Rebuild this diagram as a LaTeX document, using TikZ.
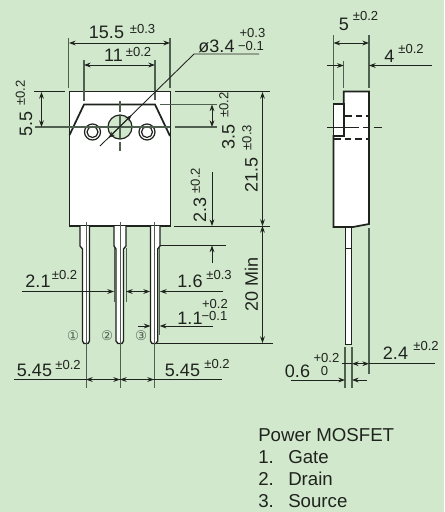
\documentclass[tikz,border=0pt]{standalone}
\usepackage{fontspec}
\setmainfont{Liberation Sans}
\newfontfamily\circfont{DejaVu Sans}
\usetikzlibrary{arrows.meta}
\definecolor{bggreen}{HTML}{D2E8CC}
\definecolor{linegray}{HTML}{4F5F50}
\definecolor{inkdark}{HTML}{1E231E}
\tikzset{
  outline/.style = {draw=inkdark, line width = 1.3pt, line join = miter},
  lead/.style = {draw=inkdark, line width = 1pt, line join = miter, fill=white},
  thin line/.style = {draw=inkdark, line width = 0.65pt},
  ext/.style = {draw=linegray, line width = 0.85pt},
  center/.style = {draw=linegray, line width = 0.6pt},
  dim/.style = {draw=inkdark, line width = 0.65pt, >={Stealth[length=5pt,width=3.6pt]}},
  bigtxt/.style = {inner sep = 0pt, text=inkdark, font = \fontsize{13.5}{14}\selectfont},
  smalltxt/.style = {inner sep = 0pt, text=inkdark, font = \fontsize{9.8}{10}\selectfont},
  listtxt/.style = {inner sep = 0pt, anchor = base west, text=inkdark, font = \fontsize{14}{16}\selectfont},
  numtxt/.style = {inner sep = 0pt, text=linegray, font = \circfont\fontsize{10}{11}\selectfont}
}
\begin{document}
\begin{tikzpicture}[x=0.75pt, y=-0.75pt]
\fill[bggreen] (0,0) rectangle (444,512);
\useasboundingbox (0,0) rectangle (444,512);

\filldraw[outline, fill=white] (69.5,91.5)--(170.5,91.5)--(170.5,226)--(69.5,226)--cycle;
\filldraw[lead] (80,226)--(80,246)--(82.5,249)--(82.5,341)--(84,343.5)--(88,343.5)--(89.5,341)--(89.5,226);
\filldraw[lead] (114,226)--(114,246)--(116,249)--(116,341)--(118,343.5)--(122,343.5)--(123.5,341)--(123.5,249)--(126,246)--(126,226);
\filldraw[lead] (150.5,226)--(150.5,341)--(152,343.5)--(156,343.5)--(157.7,341)--(157.7,249)--(160,246)--(160,226);
\draw[outline] (69.5,135)--(84,104.5)--(155,104.5)--(170,136);
\draw[outline, line width=0.9pt, fill=white] (92.5,132) circle (8);
\draw[outline, line width=0.9pt] (92.5,132) circle (5.5);
\draw[outline, line width=0.9pt, fill=white] (147,132) circle (8);
\draw[outline, line width=0.9pt] (147,132) circle (5.5);
\draw[outline, line width=0.9pt, fill=bggreen] (120,127) circle (12);

\draw[ext] (120,101)--(120,112) (120,116)--(120,138) (120,142)--(120,151);
\draw[ext] (35,127)--(170,127);
\draw[ext] (175,127)--(217,127);
\draw[ext] (160,104.5)--(217,104.5);
\draw[center] (86,222)--(86,388);
\draw[center] (120,222)--(120,388);
\draw[center] (154,222)--(154,388);
\draw[center] (114,248)--(114,302);
\draw[center] (126,248)--(126,302);
\draw[center] (159.7,248)--(159.7,335);

\draw[ext] (68.5,38)--(68.5,88);
\draw[ext] (170,38)--(170,88);
\draw[ext] (84,60)--(84,101);
\draw[ext] (155,60)--(155,100);
\draw[thin line] (34,91.5)--(65,91.5);
\draw[thin line] (175,91.5)--(270,91.5);
\draw[thin line] (174,226)--(270,226);
\draw[thin line] (160,245.5)--(226,245.5);
\draw[thin line] (157,343.5)--(272.5,343.5);

\draw[dim, <->] (69,43)--(170,43);
\draw[dim, <->] (84,65)--(155,65);
\draw[dim, <->] (41.5,92)--(41.5,127);
\draw[dim, <->] (212,104.5)--(212,127);
\draw[dim, <->] (262.5,92)--(262.5,226);
\draw[dim, <->] (262.5,226)--(262.5,343);
\draw[dim, ->] (212,172)--(212,226);
\draw[dim, ->] (212,263)--(212,245.5);
\draw[dim, ->] (22,291.5)--(114,291.5);
\draw[dim, ->] (141,291.5)--(126,291.5);
\draw[dim, ->] (141,291.5)--(150,291.5);
\draw[dim, ->] (223,291.5)--(160,291.5);
\draw[dim, ->] (138,326)--(150.5,326);
\draw[dim, ->] (213,326)--(159.7,326);
\draw[dim] (14,379.5)--(222,379.5);
\draw[dim, <->] (86,379.5)--(120,379.5);
\draw[dim, <->] (120,379.5)--(154,379.5);
\draw[dim, <->] (131.7,115)--(108.5,138);
\draw[dim] (259,54)--(194,54)--(100,146);

\node[bigtxt] (w155) at (106.5,32.5) {15.5};
\node[smalltxt] (w155t) at (142.5,29) {±0.3};
\node[bigtxt] (w11) at (113.5,55.5) {11};
\node[smalltxt] (w11t) at (138.5,52) {±0.2};
\node[bigtxt] (hole) at (216.5,46) {ø3.4};
\node[smalltxt] (holeu) at (252.5,33) {+0.3};
\node[smalltxt] (holel) at (251,45.5) {−0.1};

\node[bigtxt, rotate=90] (h55) at (26,123.5) {5.5};
\node[smalltxt, rotate=90] (h55t) at (20.5,93) {±0.2};
\node[bigtxt, rotate=90] (h35) at (228.5,136.5) {3.5};
\node[smalltxt, rotate=90] (h35t) at (224,105) {±0.2};
\node[bigtxt, rotate=90] (h215) at (251.5,174.5) {21.5};
\node[smalltxt, rotate=90] (h215t) at (247,137.5) {±0.3};
\node[bigtxt, rotate=90] (h23) at (200,209.5) {2.3};
\node[smalltxt, rotate=90] (h23t) at (195.5,180.5) {±0.2};
\node[bigtxt, rotate=90] (h20) at (251.5,284.5) {20 Min};

\node[bigtxt] (w21) at (38,281) {2.1};
\node[smalltxt] (w21t) at (64.5,274.5) {±0.2};
\node[bigtxt] (w16) at (190,281) {1.6};
\node[smalltxt] (w16t) at (219,275) {±0.3};
\node[bigtxt] (w1l) at (190,318) {1.1};
\node[smalltxt] (w1lu) at (215,304) {+0.2};
\node[smalltxt] (w1ll) at (214.5,316) {−0.1};
\node[bigtxt] (w545a) at (34.5,370) {5.45};
\node[smalltxt] (w545at) at (68,365) {±0.2};
\node[bigtxt] (w545b) at (182.5,370) {5.45};
\node[smalltxt] (w545bt) at (217,364) {±0.2};

\node[numtxt] (pin1) at (73,336) {①};
\node[numtxt] (pin2) at (107,336) {②};
\node[numtxt] (pin3) at (141,336) {③};

\filldraw[outline, fill=white] (343.7,91.5)--(369,91.5)--(369,224)--(353,227)--(333.5,227)--(333.5,136)--(343.7,136)--cycle;
\filldraw[outline, fill=white] (333.5,104)--(343.7,104)--(343.7,136)--(333.5,136)--cycle;
\filldraw[lead] (345.3,227)--(351.7,227)--(351.7,344.7)--(345.3,344.7)--cycle;
\draw[outline, line width=0.8pt] (345.3,248.7)--(351.7,248.7);
\draw[outline, line width=0.8pt, dash pattern=on 5pt off 3pt] (345,116)--(369,116);
\draw[outline, line width=0.8pt, dash pattern=on 5pt off 3pt] (334,139)--(369,139);
\draw[thin line, dash pattern=on 24pt off 3pt on 5pt off 3pt] (327,127)--(382,127);

\draw[ext] (333.5,35)--(333.5,100);
\draw[ext] (369,35)--(369,88);
\draw[ext] (343.7,61)--(343.7,88);
\draw[ext] (369,228)--(369,374);
\draw[ext] (345,347)--(345,388);
\draw[ext] (352,347)--(352,388);

\draw[dim, <->] (333.5,43)--(369,43);
\draw[dim, ->] (327,65.5)--(343.7,65.5);
\draw[dim, ->] (431.5,65.5)--(369,65.5);
\draw[dim] (341.7,363.7)--(352,363.7);
\draw[dim, <->] (352,363.7)--(369,363.7);
\draw[dim] (369,363.7)--(435,363.7);
\draw[dim, ->] (291,380)--(345,380);
\draw[dim, ->] (366.7,380)--(352,380);

\node[bigtxt] (t5) at (344,24) {5};
\node[smalltxt] (t5t) at (365.5,16) {±0.2};
\node[bigtxt] (t4) at (389.5,56) {4};
\node[smalltxt] (t4t) at (411,49) {±0.2};
\node[bigtxt] (t24) at (395.5,353) {2.4};
\node[smalltxt] (t24t) at (426,346) {±0.2};
\node[bigtxt] (t06) at (297.5,371) {0.6};
\node[smalltxt] (t06u) at (326.5,358) {+0.2};
\node[smalltxt] (t06l) at (324.5,370.5) {0};

\node[listtxt] (title) at (258,441.5) {Power MOSFET};
\node[listtxt] (n1) at (258,463) {1.};
\node[listtxt] (l1) at (288,463) {Gate};
\node[listtxt] (n2) at (258,485) {2.};
\node[listtxt] (l2) at (288,485) {Drain};
\node[listtxt] (n3) at (258,507) {3.};
\node[listtxt] (l3) at (288,507) {Source};
\end{tikzpicture}
\end{document}
